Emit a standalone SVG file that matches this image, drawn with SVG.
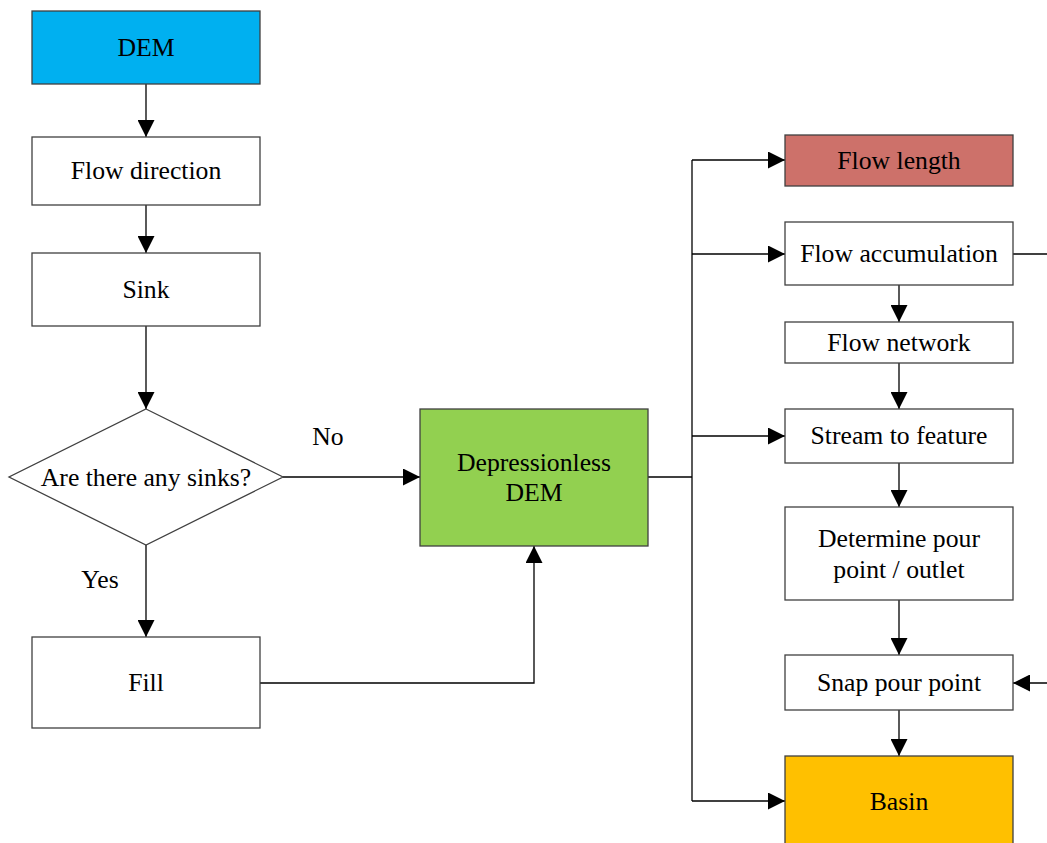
<svg xmlns="http://www.w3.org/2000/svg" width="1047" height="843" viewBox="0 0 1047 843">
<style>
.box{stroke:#404040;stroke-width:1.3}
.w{fill:#fff}
text{font-family:"Liberation Serif","Times New Roman",serif;font-size:25.7px;fill:#000;text-anchor:middle;dominant-baseline:central}
.c{fill:none;stroke:#000;stroke-width:1.3}
</style>
<defs>
<marker id="a" markerWidth="17" markerHeight="17" refX="17" refY="8.5" orient="auto" markerUnits="userSpaceOnUse">
<path d="M0,0 L17,8.5 L0,17 Z" fill="#000"/>
</marker>
</defs>
<rect width="1047" height="843" fill="#fff"/>
<g id="connectors">
<path class="c" d="M146,84 V137" marker-end="url(#a)"/>
<path class="c" d="M146,205 V253" marker-end="url(#a)"/>
<path class="c" d="M146,326 V409" marker-end="url(#a)"/>
<path class="c" d="M283,477 H420" marker-end="url(#a)"/>
<path class="c" d="M146,545 V637" marker-end="url(#a)"/>
<path class="c" d="M260,683 H534 V546" marker-end="url(#a)"/>
<path class="c" d="M648,477 H692"/>
<path class="c" d="M692,160 V801"/>
<path class="c" d="M692,160 H785" marker-end="url(#a)"/>
<path class="c" d="M692,254 H785" marker-end="url(#a)"/>
<path class="c" d="M692,436 H785" marker-end="url(#a)"/>
<path class="c" d="M692,801 H785" marker-end="url(#a)"/>
<path class="c" d="M899,285 V322" marker-end="url(#a)"/>
<path class="c" d="M899,363 V409" marker-end="url(#a)"/>
<path class="c" d="M899,463 V507" marker-end="url(#a)"/>
<path class="c" d="M899,600 V655" marker-end="url(#a)"/>
<path class="c" d="M899,710 V756" marker-end="url(#a)"/>
<path class="c" d="M1013,254 H1047"/>
<path class="c" d="M1047,683 H1013" marker-end="url(#a)"/>
<text x="328" y="436">No</text>
<text x="100" y="579">Yes</text>
</g>
<g id="dem"><rect class="box" x="32" y="11" width="228" height="73" fill="#00B0F0"/><text x="146" y="47">DEM</text></g>
<g id="flowdir"><rect class="box w" x="32" y="137" width="228" height="68"/><text x="146" y="170">Flow direction</text></g>
<g id="sink"><rect class="box w" x="32" y="253" width="228" height="73"/><text x="146" y="289">Sink</text></g>
<g id="decision"><polygon class="box w" points="146,409 283,477 146,545 9,477"/><text x="146" y="477">Are there any sinks?</text></g>
<g id="fill"><rect class="box w" x="32" y="637" width="228" height="91"/><text x="146" y="682">Fill</text></g>
<g id="depdem"><rect class="box" x="420" y="409" width="228" height="137" fill="#92D050"/><text x="534" y="462">Depressionless</text><text x="534" y="492">DEM</text></g>
<g id="flowlength"><rect class="box" x="785" y="135" width="228" height="51" fill="#CD716A"/><text x="899" y="160">Flow length</text></g>
<g id="flowacc"><rect class="box w" x="785" y="222" width="228" height="63"/><text x="899" y="253">Flow accumulation</text></g>
<g id="flownet"><rect class="box w" x="785" y="322" width="228" height="41"/><text x="899" y="342">Flow network</text></g>
<g id="stream"><rect class="box w" x="785" y="409" width="228" height="54"/><text x="899" y="435">Stream to feature</text></g>
<g id="pour"><rect class="box w" x="785" y="507" width="228" height="93"/><text x="899" y="538">Determine pour</text><text x="899" y="569">point / outlet</text></g>
<g id="snap"><rect class="box w" x="785" y="655" width="228" height="55"/><text x="899" y="682">Snap pour point</text></g>
<g id="basin"><rect class="box" x="785" y="756" width="228" height="100" fill="#FFC000"/><text x="899" y="801">Basin</text></g>
</svg>
